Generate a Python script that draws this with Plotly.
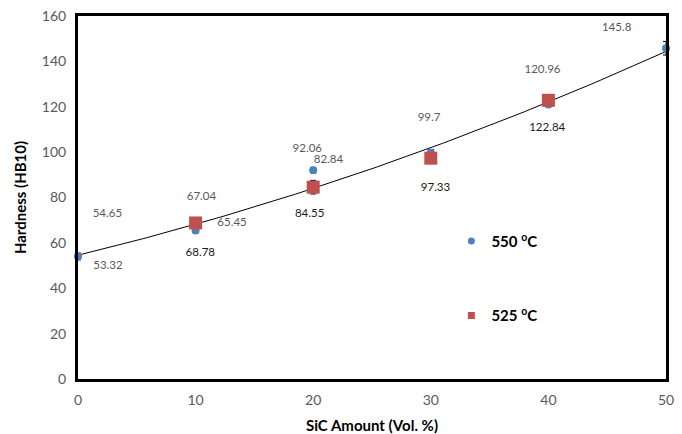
import numpy as np
import plotly.graph_objects as go

# Data
sic = [0, 10, 20, 30, 40, 50]
h550 = [54.0, 65.45, 92.06, 99.7, 120.96, 145.8]
err550 = [1.5, 1.0, 1.2, 1.5, 1.0, 3.0]
sic525 = [10, 20, 30, 40]
h525 = [68.78, 84.55, 97.33, 122.84]
err525 = [1.0, 3.0, 1.0, 1.0]

# Data labels (text, x, y) as they appear on the chart
gray_labels = ["54.65", "53.32", "67.04", "65.45", "92.06", "82.84", "99.7", "120.96", "145.8"]
gray_lx = [2.5, 2.55, 10.5, 13.1, 19.5, 21.3, 29.85, 39.5, 45.8]
gray_ly = [72.7, 49.8, 80.2, 68.7, 101.3, 96.5, 115.0, 136.0, 154.6]
black_labels = ["68.78", "84.55", "97.33", "122.84"]
black_lx = [10.4, 19.7, 30.4, 39.9]
black_ly = [55.5, 72.7, 84.1, 110.6]

# Trendline: 2nd-order polynomial fit
allx = np.array(sic + sic525, dtype=float)
ally = np.array(h550 + h525, dtype=float)
coef = np.polyfit(allx, ally, 2)
tx = np.linspace(0, 50, 101)
ty = np.polyval(coef, tx)

fig = go.Figure()
fig.add_trace(go.Scatter(x=tx, y=ty, mode="lines", line=dict(color="black", width=1),
                         showlegend=False, hoverinfo="skip"))
fig.add_trace(go.Scatter(x=sic, y=h550, mode="markers", name="550 <sup>o</sup>C",
                         marker=dict(symbol="circle", size=8, color="#4F81BD"),
                         error_y=dict(type="data", array=err550, color="black", thickness=1, width=3),
                         showlegend=False, cliponaxis=False))
fig.add_trace(go.Scatter(x=sic525, y=h525, mode="markers", name="525 <sup>o</sup>C",
                         marker=dict(symbol="square", size=13, color="#C0504D"),
                         error_y=dict(type="data", array=err525, color="black", thickness=1, width=3),
                         showlegend=False, cliponaxis=False))
# legend entries with small symbols, as in the reference
fig.add_trace(go.Scatter(x=[None], y=[None], mode="markers", name="550 <sup>o</sup>C",
                         marker=dict(symbol="circle", size=7, color="#4F81BD"), legendgroup="a"))
fig.add_trace(go.Scatter(x=[None], y=[None], mode="markers", name="525 <sup>o</sup>C",
                         marker=dict(symbol="square", size=7, color="#C0504D"), legendgroup="b"))
fig.add_trace(go.Scatter(x=gray_lx, y=gray_ly, mode="text", text=gray_labels,
                         textfont=dict(family="Lato", size=11.5, color="#595959"),
                         showlegend=False, cliponaxis=False, hoverinfo="skip"))
fig.add_trace(go.Scatter(x=black_lx, y=black_ly, mode="text", text=black_labels,
                         textfont=dict(family="Lato", size=11.5, color="#1a1a1a"),
                         showlegend=False, cliponaxis=False, hoverinfo="skip"))

fig.update_layout(
    width=682, height=434,
    margin=dict(l=78, r=16, t=16, b=55, autoexpand=False),
    paper_bgcolor="white", plot_bgcolor="white",
    font=dict(family="Lato", size=14, color="#595959"),
    legend=dict(x=0.635, y=0.425, xanchor="left", yanchor="top",
                bgcolor="rgba(0,0,0,0)", tracegroupgap=52,
                font=dict(family="Lato", size=15, color="black", weight="bold")),
    showlegend=True,
)
fig.update_xaxes(range=[0, 50], dtick=10, showgrid=False, zeroline=False, automargin=False,
                 showline=True, linecolor="black", linewidth=3, mirror=True,
                 ticks="", ticklabelstandoff=6, tickfont=dict(size=14, color="#595959"),
                 title=dict(text="SiC Amount (Vol. %)", standoff=16,
                            font=dict(size=15, color="black", weight="bold")))
fig.update_yaxes(range=[0, 160], dtick=20, showgrid=False, zeroline=False, automargin=False,
                 showline=True, linecolor="black", linewidth=3, mirror=True,
                 ticks="", ticklabelstandoff=6, tickfont=dict(size=14, color="#595959"),
                 title=dict(text="Hardness (HB10)", standoff=12,
                            font=dict(size=15, color="black", weight="bold")))

fig.write_html("out.html", config={"displayModeBar": False},
               post_script="document.body.style.margin='0';")
